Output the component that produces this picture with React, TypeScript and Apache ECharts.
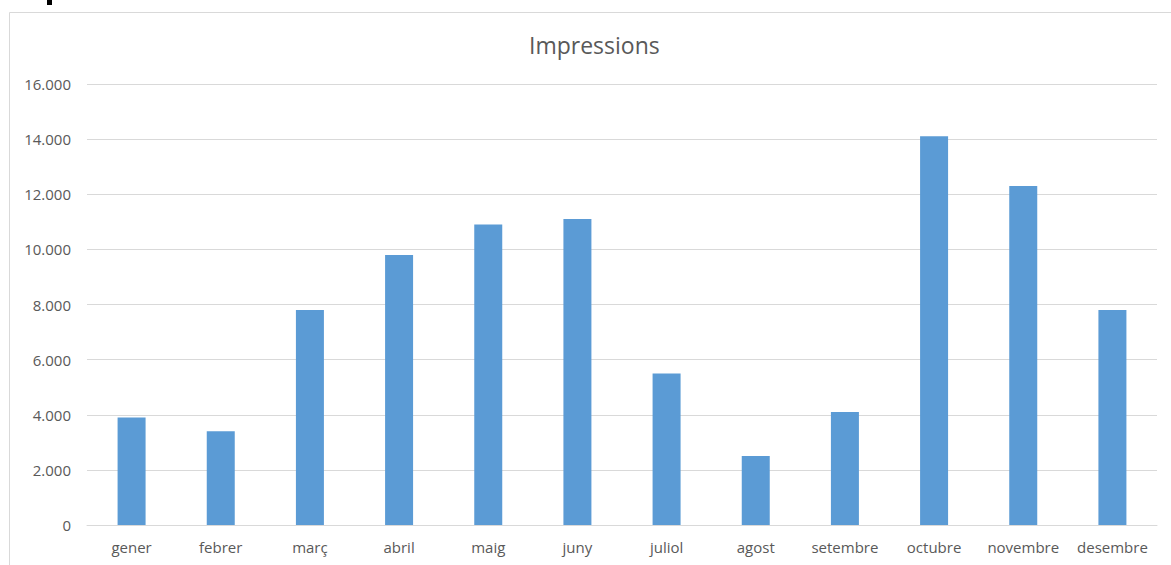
import React, { useEffect, useRef } from "react";
import * as echarts from "echarts";

const categories = ["gener", "febrer", "març", "abril", "maig", "juny", "juliol", "agost", "setembre", "octubre", "novembre", "desembre"];
const impressions = [3900, 3400, 7800, 9800, 10900, 11100, 5500, 2500, 4100, 14100, 12300, 7800];
const chartTitle = "Impressions";

const fmt = (v: number) => String(v).replace(/\B(?=(\d{3})+(?!\d))/g, ".");

export default function App() {
  const ref = useRef<HTMLDivElement>(null);
  useEffect(() => {
    const chart = echarts.init(ref.current!, null, { renderer: "svg" });
    const font = "'Open Sans', sans-serif";
    chart.setOption({
      animation: false,
      backgroundColor: "#ffffff",
      title: {
        text: chartTitle,
        left: 524,
        top: 28,
        textStyle: { color: "#595959", fontSize: 23, fontWeight: "normal", fontFamily: font },
      },
      graphic: [
        {
          type: "rect",
          shape: { x: 9.5, y: 12.5, width: 1170, height: 560 },
          style: { fill: "none", stroke: "#D9D9D9", lineWidth: 1 },
        },
        {
          type: "rect",
          shape: { x: 47, y: 0, width: 5, height: 5 },
          style: { fill: "#000000" },
        },
      ],
      grid: { left: 87, right: 14, top: 84, bottom: 40, containLabel: false },
      xAxis: {
        type: "category",
        data: categories,
        axisLine: { lineStyle: { color: "#D9D9D9", width: 1 } },
        axisTick: { show: false },
        axisLabel: { color: "#595959", fontSize: 15, fontFamily: font, margin: 14, interval: 0, hideOverlap: false },
      },
      yAxis: {
        type: "value",
        min: 0,
        max: 16000,
        interval: 2000,
        axisLine: { show: false },
        axisTick: { show: false },
        splitLine: { lineStyle: { color: "#D9D9D9", width: 1 } },
        axisLabel: { color: "#595959", fontSize: 15, fontFamily: font, margin: 16, formatter: (v: number) => fmt(v) },
      },
      series: [
        {
          type: "bar",
          data: impressions,
          barWidth: 28,
          itemStyle: { color: "#5B9BD5" },
        },
      ],
    });
    return () => chart.dispose();
  }, []);
  return <div ref={ref} style={{ position: "absolute", left: 0, top: 0, width: 1171, height: 565 }} />;
}
